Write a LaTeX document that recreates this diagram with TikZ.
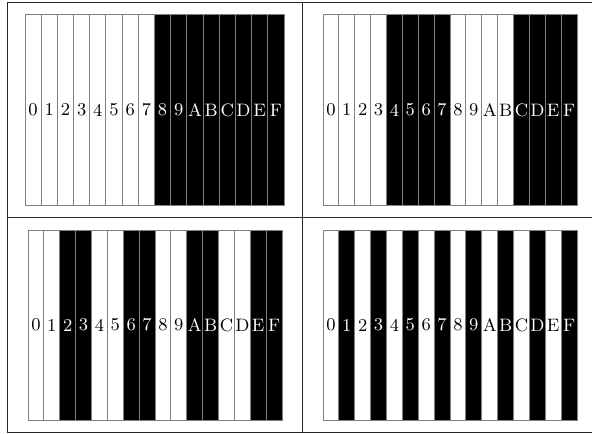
\documentclass[tikz,border=0pt]{standalone}
\usepackage{tikz}
\usetikzlibrary{positioning}
\tikzset{
  strip/.style={
    draw=gray, line width=0.5pt, inner sep=0pt, outer sep=0pt,
    minimum height=95pt, font=\fontsize{9}{10}\selectfont
  },
  framerule/.style={line width=0.5pt, color=black!85},
}
% one panel of 16 strips, black where the given bit is set
\newcommand{\bitstrips}[5]{%
  \foreach \digit [count=\n from 0] in {0,1,2,3,4,5,6,7,8,9,A,B,C,D,E,F} {
    \pgfmathtruncatemacro{\isset}{mod(floor(\n/2^#5),2)}
    \ifnum\isset=1 \def\stripfill{black}\def\stripink{white}\else\def\stripfill{white}\def\stripink{black}\fi
    \node[strip, fill=\stripfill, text=\stripink, minimum width={(#4/32)*1pt}]
      (#1-\n) at ({#2+(\n+0.5)*#4/16}, {#3+95}) {\digit};
  }%
}

\begin{document}
\begin{tikzpicture}[x=0.5pt, y=-0.5pt]
  \useasboundingbox (0,0) rectangle (592,433);

  % Frame
  \coordinate (frameTL) at (7,3);
  \coordinate (frameTR) at (592,3);
  \coordinate (frameML) at (7,217.5);
  \coordinate (frameMR) at (592,217.5);
  \coordinate (frameBL) at (7,432);
  \coordinate (frameBR) at (592,432);
  \coordinate (frameTM) at (302,3);
  \coordinate (frameBM) at (302,432);
  \draw[framerule] (frameTR) -- (frameTL) -- (frameBL) -- (frameBR);
  \draw[framerule] (frameML) -- (frameMR);
  \draw[framerule] (frameTM) -- (frameBM);

  % Panels
  \bitstrips{bitthree}{25}{15}{259}{3}
  \bitstrips{bittwo}{323}{15}{254}{2}
  \bitstrips{bitone}{28}{230}{254}{1}
  \bitstrips{bitzero}{323}{230}{254}{0}
\end{tikzpicture}
\end{document}
